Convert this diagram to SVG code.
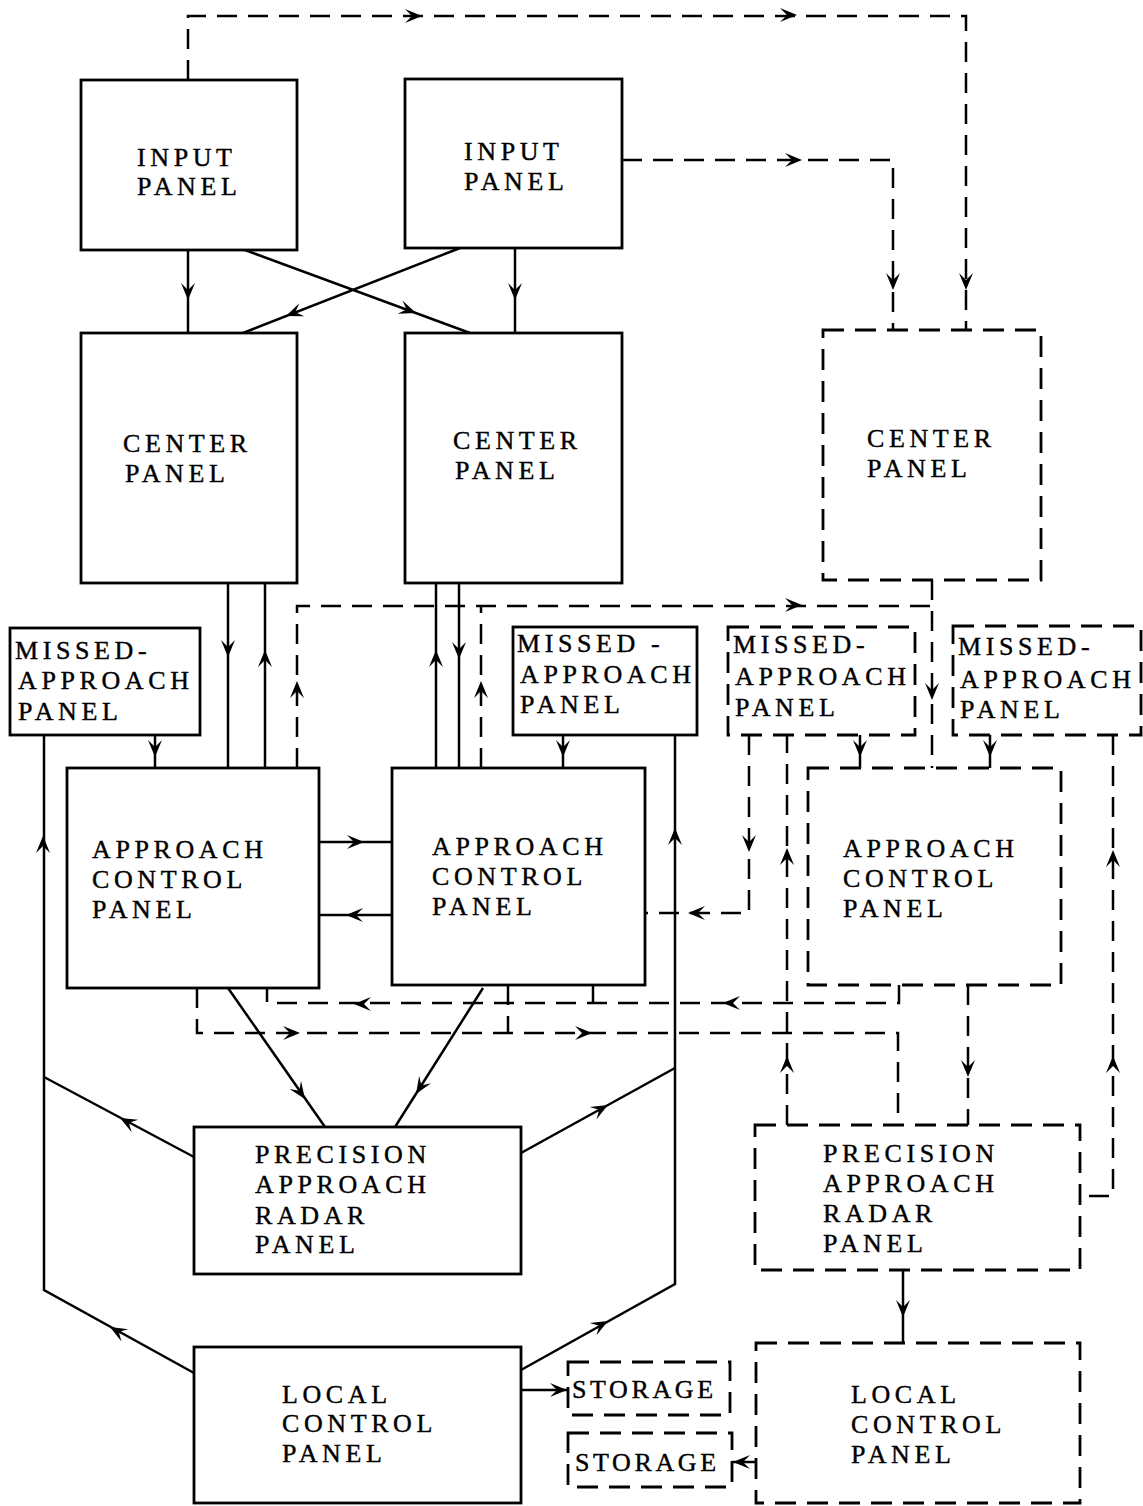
<svg xmlns="http://www.w3.org/2000/svg" xmlns:xlink="http://www.w3.org/1999/xlink" width="1143" height="1506" viewBox="0 0 1143 1506">
<style>
.box{fill:#fff;stroke:#000;stroke-width:2.8}
.dbox{fill:#fff;stroke:#000;stroke-width:2.8;stroke-dasharray:21 11}
.ln{fill:none;stroke:#000;stroke-width:2.5}
.dl{fill:none;stroke:#000;stroke-width:2.5;stroke-dasharray:20 11}
text{font-family:"Liberation Serif","Times New Roman",serif;font-size:26px;letter-spacing:4.6px;fill:#000;stroke:#000;stroke-width:0.4}
.st{letter-spacing:3.6px}
</style>
<defs>
<path id="ah" d="M0,0 L-17,-7 L-10,0 L-17,7 Z" fill="#000"/>
</defs>
<rect width="1143" height="1506" fill="#fff"/>

<g id="connectors">
<path class="dl" d="M188,80 V16 H966 V330"/>
<path class="dl" d="M622,160 H893 V330"/>
<use xlink:href="#ah" transform="translate(422,16)"/>
<use xlink:href="#ah" transform="translate(797,15)"/>
<use xlink:href="#ah" transform="translate(966,290) rotate(90)"/>
<use xlink:href="#ah" transform="translate(802,160)"/>
<use xlink:href="#ah" transform="translate(893,290) rotate(90)"/>
<path class="ln" d="M188,250 V333"/>
<path class="ln" d="M515,248 V333"/>
<path class="ln" d="M245,250 L470,333"/>
<path class="ln" d="M460,248 L243,333"/>
<use xlink:href="#ah" transform="translate(188,300) rotate(90)"/>
<use xlink:href="#ah" transform="translate(515,300) rotate(90)"/>
<use xlink:href="#ah" transform="translate(416,313) rotate(20.2)"/>
<use xlink:href="#ah" transform="translate(286,316) rotate(158.6)"/>
<path class="ln" d="M228,583 V768"/>
<path class="ln" d="M265,583 V768"/>
<path class="ln" d="M436,583 V768"/>
<path class="ln" d="M459,583 V768"/>
<use xlink:href="#ah" transform="translate(228,657) rotate(90)"/>
<use xlink:href="#ah" transform="translate(265,650) rotate(270)"/>
<use xlink:href="#ah" transform="translate(436,650) rotate(270)"/>
<use xlink:href="#ah" transform="translate(459,659) rotate(90)"/>
<path class="dl" d="M297,768 V606 H932"/>
<path class="dl" d="M481,768 V606"/>
<path class="dl" d="M932,580 V768"/>
<use xlink:href="#ah" transform="translate(297,681) rotate(270)"/>
<use xlink:href="#ah" transform="translate(481,681) rotate(270)"/>
<use xlink:href="#ah" transform="translate(802,605)"/>
<use xlink:href="#ah" transform="translate(932,700) rotate(90)"/>
<path class="ln" d="M155,735 V768"/>
<path class="ln" d="M563,735 V768"/>
<path class="ln" d="M860,735 V768"/>
<path class="ln" d="M990,735 V768"/>
<use xlink:href="#ah" transform="translate(155,757) rotate(90)"/>
<use xlink:href="#ah" transform="translate(563,757) rotate(90)"/>
<use xlink:href="#ah" transform="translate(860,757) rotate(90)"/>
<use xlink:href="#ah" transform="translate(990,757) rotate(90)"/>
<path class="ln" d="M319,842 H392"/>
<path class="ln" d="M392,915 H319"/>
<use xlink:href="#ah" transform="translate(364,842)"/>
<use xlink:href="#ah" transform="translate(346,915) rotate(180)"/>
<path class="dl" d="M749,735 V913 H645"/>
<use xlink:href="#ah" transform="translate(749,852) rotate(90)"/>
<use xlink:href="#ah" transform="translate(688,913) rotate(180)"/>
<path class="dl" d="M787,1125 V735"/>
<use xlink:href="#ah" transform="translate(787,848) rotate(270)"/>
<use xlink:href="#ah" transform="translate(787,1056) rotate(270)"/>
<path class="dl" d="M1113,735 V1196 H1080"/>
<use xlink:href="#ah" transform="translate(1113,850) rotate(270)"/>
<use xlink:href="#ah" transform="translate(1113,1056) rotate(270)"/>
<path class="dl" d="M899,985 V1003 H267 V988"/>
<path class="dl" d="M593,985 V1003"/>
<use xlink:href="#ah" transform="translate(723,1003) rotate(180)"/>
<use xlink:href="#ah" transform="translate(354,1004) rotate(180)"/>
<path class="dl" d="M197,988 V1033 H898 V1125"/>
<path class="dl" d="M508,985 V1033"/>
<use xlink:href="#ah" transform="translate(300,1033)"/>
<use xlink:href="#ah" transform="translate(592,1033)"/>
<path class="dl" d="M968,985 V1125"/>
<use xlink:href="#ah" transform="translate(968,1077) rotate(90)"/>
<path class="ln" d="M228,988 L325,1127"/>
<path class="ln" d="M483,988 L395,1127"/>
<use xlink:href="#ah" transform="translate(305,1099) rotate(55.1)"/>
<use xlink:href="#ah" transform="translate(416,1094) rotate(122.3)"/>
<path class="ln" d="M194,1373 L44,1290 V735"/>
<path class="ln" d="M194,1157 L44,1077"/>
<use xlink:href="#ah" transform="translate(43,836) rotate(270)"/>
<use xlink:href="#ah" transform="translate(120,1118) rotate(208.1)"/>
<use xlink:href="#ah" transform="translate(110,1327) rotate(209.1)"/>
<path class="ln" d="M521,1370 L675,1284 V735"/>
<path class="ln" d="M521,1153 L675,1068"/>
<use xlink:href="#ah" transform="translate(675,828) rotate(270)"/>
<use xlink:href="#ah" transform="translate(608,1105) rotate(-28.9)"/>
<use xlink:href="#ah" transform="translate(608,1321) rotate(-29)"/>
<path class="ln" d="M903,1270 V1343"/>
<use xlink:href="#ah" transform="translate(903,1317) rotate(90)"/>
<path class="ln" d="M521,1390 H568"/>
<use xlink:href="#ah" transform="translate(567,1390)"/>
<path class="ln" d="M756,1462 H732"/>
<use xlink:href="#ah" transform="translate(733,1462) rotate(180)"/>
</g>

<g id="input1"><rect class="box" x="81" y="80" width="216" height="170"/>
<text x="137" y="166">INPUT</text><text x="137" y="195">PANEL</text></g>
<g id="input2"><rect class="box" x="405" y="79" width="217" height="169"/>
<text x="464" y="160">INPUT</text><text x="464" y="190">PANEL</text></g>

<g id="center1"><rect class="box" x="81" y="333" width="216" height="250"/>
<text x="123" y="452">CENTER</text><text x="125" y="482">PANEL</text></g>
<g id="center2"><rect class="box" x="405" y="333" width="217" height="250"/>
<text x="453" y="449">CENTER</text><text x="455" y="479">PANEL</text></g>
<g id="center3"><rect class="dbox" x="823" y="330" width="218" height="250"/>
<text x="867" y="447">CENTER</text><text x="867" y="477">PANEL</text></g>

<g id="missed1"><rect class="box" x="10" y="628" width="190" height="107"/>
<text x="15" y="659">MISSED-</text><text x="18" y="689">APPROACH</text><text x="18" y="720">PANEL</text></g>
<g id="missed2"><rect class="box" x="513" y="627" width="184" height="108"/>
<text x="517" y="652">MISSED -</text><text x="520" y="683">APPROACH</text><text x="520" y="713">PANEL</text></g>
<g id="missed3"><rect class="dbox" x="728" y="627" width="187" height="108"/>
<text x="733" y="653">MISSED-</text><text x="735" y="685">APPROACH</text><text x="735" y="716">PANEL</text></g>
<g id="missed4"><rect class="dbox" x="953" y="626" width="188" height="109"/>
<text x="958" y="655">MISSED-</text><text x="960" y="688">APPROACH</text><text x="960" y="718">PANEL</text></g>

<g id="approach1"><rect class="box" x="67" y="768" width="252" height="220"/>
<text x="92" y="858">APPROACH</text><text x="92" y="888">CONTROL</text><text x="92" y="918">PANEL</text></g>
<g id="approach2"><rect class="box" x="392" y="768" width="253" height="217"/>
<text x="432" y="855">APPROACH</text><text x="432" y="885">CONTROL</text><text x="432" y="915">PANEL</text></g>
<g id="approach3"><rect class="dbox" x="808" y="768" width="253" height="217"/>
<text x="843" y="857">APPROACH</text><text x="843" y="887">CONTROL</text><text x="843" y="917">PANEL</text></g>

<g id="par1"><rect class="box" x="194" y="1127" width="327" height="147"/>
<text x="255" y="1163">PRECISION</text><text x="255" y="1193">APPROACH</text><text x="255" y="1224">RADAR</text><text x="255" y="1253">PANEL</text></g>
<g id="par2"><rect class="dbox" x="755" y="1125" width="325" height="145"/>
<text x="823" y="1162">PRECISION</text><text x="823" y="1192">APPROACH</text><text x="823" y="1222">RADAR</text><text x="823" y="1252">PANEL</text></g>

<g id="local1"><rect class="box" x="194" y="1347" width="327" height="156"/>
<text x="282" y="1403">LOCAL</text><text x="282" y="1432">CONTROL</text><text x="282" y="1462">PANEL</text></g>
<g id="local2"><rect class="dbox" x="756" y="1343" width="324" height="160"/>
<text x="851" y="1403">LOCAL</text><text x="851" y="1433">CONTROL</text><text x="851" y="1463">PANEL</text></g>

<g id="storage1"><rect class="dbox" x="568" y="1362" width="162" height="53"/>
<text class="st" x="572" y="1398">STORAGE</text></g>
<g id="storage2"><rect class="dbox" x="568" y="1433" width="164" height="54"/>
<text class="st" x="575" y="1471">STORAGE</text></g>
</svg>
